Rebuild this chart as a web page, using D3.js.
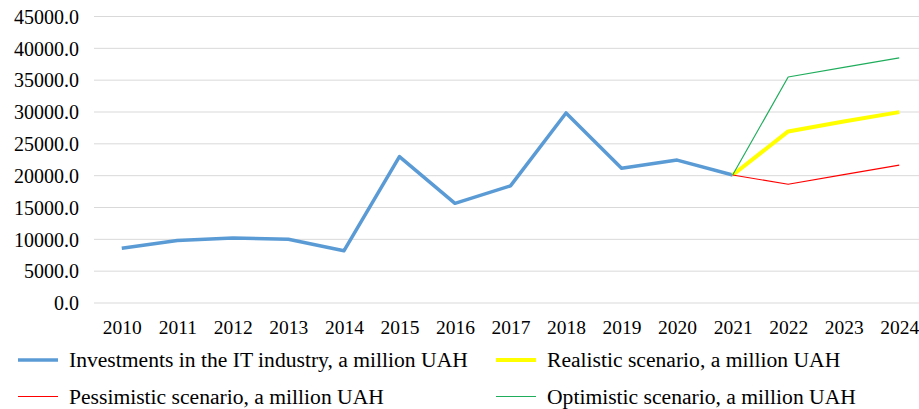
<!DOCTYPE html>
<html>
<head>
<meta charset="utf-8">
<script src="https://cdn.jsdelivr.net/npm/d3@7"></script>
</head>
<body style="margin:0; background:#fff">
<div id="chart"></div>
<script>
const years = ["2010", "2011", "2012", "2013", "2014", "2015", "2016", "2017", "2018", "2019", "2020", "2021", "2022", "2023", "2024"];
const investments = [8600, 9800, 10200, 10000, 8200, 23000, 15650, 18400, 29850, 21150, 22450, 20100, null, null, null];
const realistic = [null, null, null, null, null, null, null, null, null, null, null, 20100, 26950, 28500, 29980];
const pessimistic = [null, null, null, null, null, null, null, null, null, null, null, 20100, 18650, 20150, 21650];
const optimistic = [null, null, null, null, null, null, null, null, null, null, null, 20100, 35500, 37000, 38500];
const yTicks = [0, 5000, 10000, 15000, 20000, 25000, 30000, 35000, 40000, 45000];

const series = [
    { name: "Investments in the IT industry, a million UAH", values: investments, color: "#5b9bd5", width: 3.5 },
    { name: "Realistic scenario, a million UAH", values: realistic, color: "#ffff00", width: 4 },
    { name: "Pessimistic scenario, a million UAH", values: pessimistic, color: "#ff0000", width: 1.2 },
    { name: "Optimistic scenario, a million UAH", values: optimistic, color: "#1fad5c", width: 1.2 }
];

const FONT = "Liberation Serif";
const width = 919, height = 409;
const margin = { top: 16.5, left: 94, bottom: 106 };
const plotBottom = height - margin.bottom;

const svg = d3.select("#chart")
    .append("svg")
    .attr("width", width)
    .attr("height", height);

/* X-scale: category centres, right edge runs past the window like the source */
const x = d3.scalePoint()
    .domain(years)
    .range([margin.left, margin.left + 833])
    .padding(0.5);

/* Y-scale */
const y = d3.scaleLinear()
    .domain([0, 45000])
    .range([plotBottom, margin.top]);

// gridlines
svg.append("g")
    .selectAll("line")
    .data(yTicks)
    .enter()
    .append("line")
    .attr("x1", margin.left)
    .attr("x2", width)
    .attr("y1", d => y(d))
    .attr("y2", d => y(d))
    .attr("stroke", "#d9d9d9")
    .attr("stroke-width", 1);

/* Y-axis labels */
const yAxis = svg.append("g")
    .attr("transform", `translate(${margin.left - 15}, 0)`)
    .call(d3.axisLeft(y).tickValues(yTicks).tickFormat(d => d.toFixed(1)).tickSize(0).tickPadding(0));
yAxis.select(".domain").remove();
yAxis.selectAll("text")
    .style("font-family", FONT)
    .style("font-size", "20px")
    .attr("fill", "#000")
    .attr("dy", "0.34em");

/* X-axis labels */
const xAxis = svg.append("g")
    .attr("transform", `translate(0, ${plotBottom})`)
    .call(d3.axisBottom(x).tickSize(0).tickPadding(0));
xAxis.select(".domain").remove();
xAxis.selectAll("text")
    .style("font-family", FONT)
    .style("font-size", "19.5px")
    .attr("fill", "#000")
    .attr("y", 24)
    .attr("dy", "0.34em");

// lines
const line = d3.line()
    .defined(d => d.v != null)
    .x(d => x(d.year))
    .y(d => y(d.v));

svg.selectAll(".series")
    .data(series)
    .enter()
    .append("path")
    .attr("class", "series")
    .attr("fill", "none")
    .attr("stroke", s => s.color)
    .attr("stroke-width", s => s.width)
    .attr("stroke-linejoin", "round")
    .attr("d", s => line(s.values.map((v, i) => ({ year: years[i], v }))));

// legend (2 columns)
const legendPos = [
    { x: 18, y: 360 },
    { x: 496, y: 360 },
    { x: 18, y: 396.5 },
    { x: 496, y: 396.5 }
];

const legend = svg.selectAll(".legend")
    .data(series)
    .enter()
    .append("g")
    .attr("class", "legend")
    .attr("transform", (s, i) => `translate(${legendPos[i].x}, ${legendPos[i].y})`);

legend.append("line")
    .attr("x1", 0)
    .attr("x2", 40)
    .attr("stroke", s => s.color)
    .attr("stroke-width", s => s.width);

legend.append("text")
    .attr("x", 51)
    .attr("dy", "0.34em")
    .attr("fill", "#000")
    .style("font-family", FONT)
    .style("font-size", "21.6px")
    .text(s => s.name);
</script>
</body>
</html>
